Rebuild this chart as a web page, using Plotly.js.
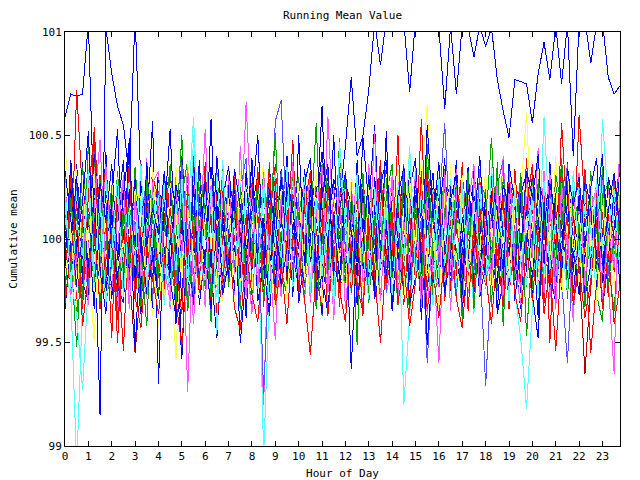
<!DOCTYPE html>
<html>
<head>
<meta charset="utf-8">
<script src="https://cdn.plot.ly/plotly-3.0.1.min.js"></script>
<style>
html,body{margin:0;padding:0;background:#fff;}
#chart{width:640px;height:480px;}
.scatterlayer path{shape-rendering:crispEdges;}
</style>
</head>
<body>
<div id="chart"></div>
<script>
// Hour of day (15-minute steps)
var HOURS = [0,0.25,0.5,0.75,1,1.25,1.5,1.75,2,2.25,2.5,2.75,3,3.25,3.5,3.75,4,4.25,4.5,4.75,5,5.25,5.5,5.75,6,6.25,6.5,6.75,7,7.25,7.5,7.75,8,8.25,8.5,8.75,9,9.25,9.5,9.75,10,10.25,10.5,10.75,11,11.25,11.5,11.75,12,12.25,12.5,12.75,13,13.25,13.5,13.75,14,14.25,14.5,14.75,15,15.25,15.5,15.75,16,16.25,16.5,16.75,17,17.25,17.5,17.75,18,18.25,18.5,18.75,19,19.25,19.5,19.75,20,20.25,20.5,20.75,21,21.25,21.5,21.75,22,22.25,22.5,22.75,23,23.25,23.5,23.75];
var TICK_VALUES = [0,1,2,3,4,5,6,7,8,9,10,11,12,13,14,15,16,17,18,19,20,21,22,23];
var TICK_LABELS = ["0","1","2","3","4","5","6","7","8","9","10","11","12","13","14","15","16","17","18","19","20","21","22","23"];
var Y_TICKS = [99,99.5,100,100.5,101];
var Y_LABELS = ["99","99.5","100","100.5","101"];

var s01 = [100.59,100.70,100.69,100.70,101.05,100.10,99.15,101.02, 100.80,100.64,100.55,100.30,101.08,100.25,100.05,100.20, 99.98,100.22,100.31,100.08,100.17,99.92,100.26,100.12, 100.03,100.28,99.95,100.19,100.35,100.07,99.89,100.24, 100.15,100.31,100.02,99.94,100.27,100.11,100.38,100.05, 100.21,99.97,100.33,100.14,100.42,100.09,100.29,100.18, 100.45,100.78,100.40,100.50,100.72,101.05,100.84,101.06, 101.10,101.04,101.05,100.71,101.06,101.08,101.10,101.05, 101.02,100.63,101.03,100.70,101.04,101.02,100.88,101.03, 100.93,101.02,100.77,100.62,100.49,100.77,100.76,100.75, 100.56,100.80,100.95,100.77,101.03,100.75,101.04,100.40, 101.05,101.06,100.85,101.04,101.05,100.78,100.70,100.74];
var s02 = [100.08,99.86,100.72,100.21,99.93,100.54,100.02,99.78, 100.17,99.91,99.46,100.12,99.84,100.26,99.97,100.09, 99.81,100.14,100.03,99.72,100.29,99.95,100.11,99.88, 100.24,99.83,100.06,100.31,99.90,100.15,99.76,100.02, 99.94,100.19,99.87,100.08,100.36,99.79,100.04,100.22, 99.85,100.13,99.98,100.27,99.74,100.05,100.18,99.92, 100.11,99.82,100.25,99.96,100.07,99.71,100.16,100.34, 99.89,100.03,100.20,99.81,100.12,99.93,100.28,100.01, 99.77,100.09,100.17,99.86,100.32,99.99,100.06,99.73, 100.14,99.90,100.26,100.04,99.83,100.19,99.95,100.10, 100.30,99.87,100.02,100.13,99.79,100.56,100.08,99.91, 100.60,100.16,99.84,100.05,100.23,99.94,100.12,100.38];
var s03 = [99.71,99.92,99.48,100.06,99.88,100.15,99.79,100.03, 100.12,99.84,100.21,99.95,100.08,99.69,100.17,99.90, 100.04,100.26,99.82,100.13,99.97,100.31,99.86,100.09, 99.76,100.18,100.01,99.91,100.24,99.85,100.10,99.96, 100.14,99.80,100.07,100.29,99.93,100.16,99.74,100.02, 99.89,100.21,100.05,100.56,99.87,100.11,99.78,100.19, 100.03,99.92,100.27,99.81,100.14,100.00,99.88,100.23, 99.95,100.09,99.72,100.18,100.06,99.86,100.25,99.97, 100.12,99.83,100.08,100.30,99.91,100.02,100.17,99.79, 100.06,100.49,99.94,100.13,99.76,100.20,99.99,100.11, 99.85,100.16,100.03,99.90,100.27,99.82,100.09,100.21, 99.93,100.14,99.80,100.05,100.24,99.88,99.65,100.12];
var s04 = [100.13,99.88,100.24,99.97,100.31,99.82,100.06,100.19, 99.91,100.27,100.02,99.78,100.14,99.93,100.08,100.57, 99.30,100.11,100.53,99.89,99.42,100.16,99.96,100.22, 100.04,99.81,100.18,99.94,100.29,100.07,99.85,100.12, 99.98,100.23,99.79,100.10,99.92,100.34,100.01,99.87, 100.17,99.95,100.08,99.83,100.26,100.03,99.90,100.14, 99.86,100.20,99.99,100.32,99.80,100.09,100.24,99.93, 100.11,99.84,100.06,100.19,99.91,100.28,99.75,100.05, 100.15,99.97,99.82,100.13,100.02,99.88,100.21,100.07, 99.94,100.10,100.26,99.86,100.04,99.79,100.17,99.99, 100.22,99.90,100.08,100.31,99.85,100.12,99.96,100.18, 100.03,99.81,100.15,99.92,100.27,100.06,99.87,100.10];
var s05 = [100.45,100.12,99.84,100.03,99.92,99.51,100.18,99.96, 100.07,99.83,100.21,99.94,100.10,100.28,99.87,100.01, 99.58,100.14,99.90,99.42,100.19,99.98,100.06,99.81, 100.23,99.95,100.09,99.86,100.15,100.02,99.79,100.20, 99.93,100.11,99.85,100.24,100.04,99.89,100.17,99.97, 100.08,99.82,100.26,99.99,99.87,100.13,100.05,99.91, 100.19,99.94,100.07,99.80,100.22,99.96,100.12,99.88, 100.03,100.16,99.91,100.09,99.84,100.25,100.65,99.97, 99.89,100.13,100.01,99.78,100.18,99.95,100.10,100.27, 99.92,100.06,99.83,100.15,100.02,99.90,100.21,100.61, 99.98,100.12,99.86,100.07,100.20,99.93,100.04,99.81, 100.14,99.97,100.09,99.85,100.18,100.01,99.90,100.24];
var s06 = [99.93,100.17,99.85,100.08,100.26,99.97,100.11,99.82, 100.04,100.21,99.89,100.13,99.95,100.30,100.02,99.87, 100.16,99.90,100.07,99.78,100.22,99.26,100.09,99.94, 100.53,99.88,100.14,100.01,99.83,100.19,99.96,100.66, 100.05,99.91,99.20,100.12,99.86,100.23,100.00,99.79, 100.18,99.92,100.08,100.27,99.84,100.59,100.03,99.95, 99.87,100.15,100.04,99.81,100.20,99.93,100.11,100.29, 99.90,100.06,99.77,100.17,100.02,99.88,100.24,99.96, 99.40,100.13,99.85,100.09,100.26,99.94,100.05,99.82, 100.19,99.98,100.10,99.86,100.33,100.01,99.91,100.14, 99.84,100.07,100.22,99.95,100.12,99.80,100.17,100.03, 99.92,100.25,99.88,100.10,100.04,99.79,99.35,100.57];
var s07 = [99.86,99.72,98.90,99.68,100.05,100.21,99.93,100.12, 99.98,100.17,99.88,100.03,100.24,99.91,100.08,99.80, 100.14,99.95,100.06,100.27,99.87,100.10,100.59,99.97, 100.02,99.83,100.19,99.94,100.11,100.28,99.89,100.05, 99.92,100.16,98.95,99.75,100.09,99.96,100.22,100.01, 99.85,100.13,99.99,100.20,99.90,100.07,99.81,100.18, 100.04,99.93,100.15,99.86,100.26,100.00,99.89,100.12, 99.97,100.21,99.20,99.62,100.06,99.91,100.17,99.84, 100.10,100.02,99.87,100.23,99.95,100.14,99.82,100.06, 99.93,100.18,100.04,99.88,100.11,99.99,100.25,99.90, 100.08,99.86,100.59,100.03,99.92,100.15,100.01,99.83, 100.20,99.94,100.09,100.27,99.98,99.87,100.13,100.05];
var s08 = [100.11,99.90,100.24,99.97,100.06,99.84,100.18,100.02, 99.89,100.13,99.95,100.29,100.04,99.81,100.16,99.93, 100.07,100.22,99.88,100.10,99.96,100.19,99.83,100.03, 100.15,99.92,100.05,99.79,100.23,100.00,99.87,100.14, 99.98,100.12,99.25,99.91,100.57,100.67,100.02,99.85, 100.20,99.94,100.09,99.87,100.13,100.26,99.93,100.04, 99.82,100.17,100.01,99.90,100.24,99.97,100.08,99.86, 100.12,99.95,100.03,100.21,99.88,100.10,99.40,99.92, 100.15,100.56,99.97,100.06,99.84,100.18,100.00,99.91, 99.29,99.83,100.14,99.96,100.09,100.25,99.89,100.02, 100.11,99.88,100.19,99.93,100.06,99.81,99.40,99.97, 100.13,100.02,99.90,100.21,99.85,100.08,99.95,100.16];
var s09 = [99.95,100.16,100.02,99.87,100.21,99.93,100.09,99.80, 100.13,99.97,100.05,99.84,99.45,99.79,100.18,100.03, 99.90,100.11,100.24,99.96,100.07,99.85,100.14,100.00, 99.88,100.20,99.94,100.08,99.82,100.16,100.03,99.91, 100.12,99.86,100.04,100.19,99.93,100.10,99.80,100.06, 99.97,100.23,99.89,100.02,100.15,99.84,100.09,99.95, 100.06,99.92,100.18,99.87,100.01,100.27,99.90,100.08, 99.83,100.14,100.00,99.94,100.21,99.86,100.05,100.17, 99.99,99.81,100.12,100.04,99.91,100.19,99.96,100.10, 100.02,99.88,100.16,99.93,100.08,99.85,100.22,99.97, 100.14,99.95,100.03,99.82,100.18,100.06,99.90,100.11, 99.87,99.35,99.78,100.09,99.95,100.16,100.01,99.89];
var s10 = [100.04,99.83,100.19,99.92,100.10,100.28,99.88,100.01, 100.15,99.96,99.81,100.08,100.22,99.90,100.13,99.99, 99.86,100.09,99.97,100.20,99.42,100.05,99.91,100.17, 100.02,99.85,99.52,100.11,99.94,100.24,100.00,99.87, 100.18,99.93,100.07,99.84,100.13,99.98,100.26,100.03, 99.91,100.16,99.95,100.08,100.64,99.89,100.12,100.01, 99.88,100.21,99.96,100.10,99.83,100.15,100.04,99.92, 100.19,99.87,100.06,100.25,99.93,100.02,99.85,100.14, 100.00,99.90,100.17,99.82,100.09,100.23,99.95,100.06, 99.89,100.12,99.97,100.20,99.84,100.05,100.15,99.93, 100.03,100.24,99.88,100.11,99.96,100.07,99.81,100.19, 99.94,100.08,100.16,99.86,100.02,100.22,99.91,100.05];
var s11 = [99.89,100.23,100.04,99.91,100.15,99.97,100.31,99.82, 100.06,99.50,100.12,99.94,100.20,100.01,99.86,100.17, 99.98,100.09,99.83,100.25,99.95,100.13,100.02,99.88, 100.19,99.92,100.07,99.80,100.16,99.99,100.27,100.04, 99.85,100.11,99.96,100.22,100.03,99.87,100.14,99.93, 100.08,100.30,99.90,100.05,99.81,100.18,99.97,100.12, 99.94,100.06,100.21,99.89,100.10,99.84,100.17,100.00, 100.13,99.95,100.04,100.26,99.91,100.58,99.88,100.09, 99.97,100.20,99.85,100.07,100.15,99.93,100.02,100.24, 99.86,100.11,99.99,100.18,99.92,100.06,100.29,99.88, 100.16,99.94,100.05,99.83,100.21,100.02,99.90,100.13, 99.98,100.10,99.87,100.19,100.04,99.93,100.26,99.85];
var s12 = [99.78,100.31,99.62,100.14,99.85,100.38,99.70,100.05, 100.24,99.66,100.09,99.81,100.35,99.92,99.58,100.19, 99.87,100.28,99.74,100.02,100.50,99.69,100.16,99.80, 100.07,99.60,100.33,99.89,100.12,99.73,100.26,99.94, 99.65,100.22,99.97,100.37,99.76,100.04,99.84,100.30, 100.11,99.71,100.25,99.90,99.63,100.18,99.82,100.49, 99.79,100.13,99.49,100.29,99.95,100.08,99.68,100.21, 100.36,99.83,100.02,99.64,100.27,99.91,100.15,99.72, 99.98,100.34,99.75,100.10,99.61,100.23,99.88,100.06, 100.19,99.67,100.32,99.58,100.14,99.86,100.03,99.77, 100.28,99.93,99.70,100.20,99.84,100.39,99.96,99.62, 100.09,99.80,100.24,99.73,99.60,100.17,99.87,100.35];
var s13 = [100.22,99.74,100.36,99.89,100.08,99.66,100.28,99.95, 99.71,100.17,99.86,100.49,99.79,100.03,100.31,99.63, 100.12,99.82,100.26,99.59,100.19,99.92,99.68,100.33, 99.85,100.58,99.77,100.14,99.98,100.29,99.72,100.06, 100.35,99.88,100.10,99.67,100.24,99.81,100.40,99.94, 99.76,100.20,99.90,100.32,99.64,100.09,100.27,99.83, 100.15,99.37,100.01,100.30,99.75,100.18,99.87,100.52, 99.69,100.07,100.34,99.84,100.21,99.61,100.12,99.96, 100.26,99.78,100.05,100.38,99.70,100.16,99.91,100.02, 99.86,100.31,99.65,100.11,99.93,100.25,99.74,100.19, 100.04,99.62,100.29,99.88,100.13,99.80,100.37,99.97, 99.73,100.23,99.91,100.08,99.66,100.30,99.85,100.14];
var s14 = [99.83,100.27,99.69,100.12,99.94,100.35,99.78,100.03, 100.18,99.62,100.25,99.90,100.07,99.73,100.39,99.85, 99.96,100.21,99.66,100.30,99.81,100.10,99.59,100.16, 100.04,99.75,100.28,99.87,100.13,99.70,100.45,99.92, 99.64,100.19,99.86,100.33,99.97,99.72,100.24,99.80, 100.09,99.68,100.31,99.93,99.77,100.22,99.61,100.14, 100.27,99.82,100.06,99.65,100.36,99.91,100.11,99.74, 99.87,100.32,99.70,100.17,99.95,100.26,99.63,100.08, 100.20,99.79,100.01,100.34,99.67,100.12,99.88,100.29, 99.76,100.15,99.92,100.40,99.84,100.05,99.69,100.23, 100.10,99.87,100.33,99.71,100.18,99.96,100.02,99.60, 100.25,99.78,100.13,99.94,100.30,99.82,100.07,99.88];
var s15 = [100.12,99.81,99.63,99.27,99.79,100.24,99.90,100.31, 100.08,99.70,100.27,99.93,100.16,99.74,100.35,99.97, 99.85,100.22,99.68,100.13,100.30,99.80,100.04,99.91, 100.26,99.95,99.72,100.38,99.86,100.11,99.65,100.20, 99.89,100.17,99.98,99.69,100.32,99.83,100.08,100.28, 99.76,100.02,100.25,99.67,100.19,99.94,99.84,100.33, 100.14,99.73,100.29,100.05,99.78,100.21,99.88,100.10, 99.82,100.26,99.99,99.71,100.36,99.87,100.15,99.93, 100.23,99.75,100.09,100.30,99.85,100.12,99.64,100.19, 99.96,99.79,100.27,99.83,100.07,99.75,99.52,99.18, 99.66,100.16,99.87,100.24,100.01,99.77,100.20,99.90, 100.28,99.84,100.06,99.72,100.58,100.17,99.89,100.13];
var s16 = [99.88,100.19,100.34,99.75,100.06,99.82,100.27,99.97, 99.69,100.30,99.78,100.12,99.91,100.24,99.86,99.63, 100.21,99.90,100.07,100.35,99.76,100.15,99.93,100.28, 99.81,100.02,100.25,99.70,100.18,99.87,100.33,99.96, 100.14,99.79,100.29,99.92,99.66,100.20,99.98,99.85, 100.31,99.95,99.73,100.17,99.84,100.26,99.71,100.38, 99.90,100.08,99.80,100.27,100.13,99.74,100.22,99.93, 99.82,100.34,99.97,100.45,99.78,100.19,99.88,100.09, 100.18,99.86,100.36,99.72,100.04,100.25,99.80,99.99, 99.77,100.21,99.94,100.31,99.83,100.12,99.68,100.26, 100.07,99.81,100.23,99.89,100.40,99.75,100.10,100.22, 99.79,100.28,99.95,99.70,100.16,99.92,100.33,99.98];
var s17 = [100.29,99.80,99.98,100.37,99.73,100.20,99.89,100.42, 99.71,100.15,100.38,99.84,100.02,99.64,100.24,99.93, 100.33,99.78,100.11,99.88,100.40,99.95,99.70,100.22, 99.82,100.35,100.00,99.74,100.27,99.86,100.14,99.62, 100.21,99.92,99.77,100.36,99.85,100.10,100.30,99.72, 100.50,99.87,100.19,99.68,100.03,100.28,99.81,99.96, 100.24,99.76,100.38,99.85,100.16,100.55,99.91,100.06, 99.70,100.20,99.94,100.33,99.82,100.01,100.27,99.79, 100.09,100.39,99.75,100.18,99.95,99.83,100.34,99.98, 99.80,100.23,100.04,99.73,100.30,99.92,99.66,100.17, 100.36,99.89,100.12,100.26,99.78,99.97,100.21,99.74, 100.02,100.31,99.85,100.15,100.41,99.77,100.05,100.32];
var s18 = [99.90,100.25,99.68,100.09,100.32,99.79,100.14,100.35, 99.97,99.72,100.28,99.95,99.81,100.37,99.74,100.11, 99.84,100.31,100.06,99.69,100.19,99.88,100.40,99.77, 100.16,99.70,100.24,99.98,99.83,100.30,99.75,100.05, 100.27,99.86,99.93,100.36,99.71,100.18,99.89,100.23, 99.76,100.29,99.99,99.80,100.34,99.92,100.13,99.67, 100.21,99.97,99.73,100.32,99.85,100.04,100.38,99.78, 100.07,99.81,100.29,99.66,100.17,99.94,100.35,99.86, 99.88,100.24,99.76,100.12,100.33,99.82,99.99,100.28, 100.20,99.74,100.01,99.87,100.30,100.15,99.79,100.39, 99.83,100.10,99.69,100.25,99.96,100.34,99.77,100.18, 100.27,99.94,99.45,99.80,100.13,99.72,100.31,100.02];
var s19 = [100.16,99.81,100.28,99.96,99.74,100.45,99.87,100.21, 99.92,100.26,99.76,100.34,99.85,100.09,100.30,99.70, 100.23,99.88,100.14,99.79,100.37,99.97,99.73,100.25, 99.83,100.19,100.32,99.75,99.95,99.86,100.24,100.39, 99.78,99.98,99.89,100.27,99.70,100.33,100.12,99.84, 100.22,99.77,99.96,100.31,99.87,100.17,99.80,100.35, 99.95,100.28,99.72,99.93,100.24,99.81,100.33,99.74, 100.15,99.85,100.36,99.79,100.05,100.29,99.76,100.20, 99.88,100.23,99.94,99.71,100.30,100.08,99.83,100.34, 100.12,99.78,100.26,100.38,99.75,99.97,100.31,99.86, 100.21,99.92,99.81,100.28,99.70,100.11,100.36,99.87, 99.94,100.32,99.76,100.24,99.90,99.82,100.27,100.10];
var s20 = [99.72,100.20,99.86,100.35,100.10,99.78,100.29,99.94, 100.26,99.80,100.15,99.87,100.33,99.71,99.97,100.34, 99.82,100.27,99.91,99.70,100.21,100.38,99.85,100.13, 100.30,99.76,99.95,100.26,99.80,100.12,99.66,100.32, 99.93,99.84,100.34,99.75,100.18,99.90,100.28,99.79, 99.86,100.24,99.73,100.13,100.36,99.83,100.20,99.96, 100.33,99.79,100.11,99.88,100.27,99.74,100.16,100.30, 99.81,100.19,99.84,100.31,99.93,99.72,100.25,100.08, 100.28,99.82,100.18,99.91,100.35,99.77,100.12,99.86, 100.21,99.94,99.75,100.29,100.14,99.80,100.32,99.92, 99.76,100.26,100.09,99.83,100.31,100.16,99.78,100.23, 99.95,99.85,100.33,99.74,100.20,100.27,99.81,100.13];
var s21 = [100.33,100.09,99.77,100.25,99.86,100.41,100.12,99.74, 100.20,100.53,99.80,99.97,100.29,99.72,100.37,99.89, 99.98,99.79,100.30,100.16,99.70,100.26,99.93,100.38, 99.81,100.23,99.88,100.32,100.02,99.75,100.27,99.96, 100.39,99.85,100.21,99.94,99.77,100.30,99.84,100.15, 99.90,100.34,100.01,99.73,100.27,99.95,100.50,99.82, 100.22,99.87,100.36,100.03,99.71,100.30,99.97,99.80, 100.28,99.93,99.76,100.24,100.39,99.83,100.11,100.32, 99.78,100.17,100.27,99.86,99.99,100.35,99.74,100.21, 100.13,99.81,100.31,99.96,99.76,100.26,100.18,99.84, 100.31,100.10,99.79,100.37,99.95,99.73,100.24,99.92, 99.85,100.29,100.15,99.77,100.33,100.07,99.80,100.26];
var s22 = [100.24,99.83,99.96,99.70,100.29,100.17,99.79,100.36, 99.87,99.95,100.31,99.74,100.22,99.82,99.93,100.28, 100.15,99.76,99.86,100.25,99.92,99.68,100.33,99.81, 100.27,100.12,99.77,100.20,99.88,100.34,99.91,99.73, 99.94,100.30,99.80,99.97,100.26,99.75,100.21,99.90, 99.83,99.99,100.33,99.86,99.93,99.76,100.24,100.15, 99.89,100.28,99.79,100.18,99.72,100.25,100.13,99.87, 100.31,99.80,99.95,100.11,99.84,100.27,99.75,100.22, 99.93,100.33,99.85,100.21,99.89,99.74,100.29,100.16, 99.79,99.92,100.25,99.86,100.35,99.90,99.77,100.18, 100.26,99.84,99.91,100.32,99.78,100.22,99.87,99.94, 100.20,99.73,100.28,99.92,99.81,100.24,99.89,99.85];
var s23 = [99.78,100.27,99.91,99.83,100.32,100.18,99.75,100.23, 99.93,99.81,100.25,100.19,99.72,100.30,99.88,99.80, 100.31,99.94,99.83,100.22,100.17,99.77,100.26,99.74, 100.19,99.86,100.28,99.78,100.24,99.95,99.81,100.33, 99.85,100.21,99.92,99.73,100.30,99.87,100.23,100.16, 99.90,99.79,100.26,100.20,99.84,100.31,99.89,99.76, 100.27,100.17,99.82,100.24,99.88,99.77,100.29,99.92, 99.86,100.23,100.16,99.80,100.30,99.91,99.78,100.25, 100.19,99.84,100.24,99.89,99.76,100.28,100.17,99.82, 100.22,99.88,99.79,100.26,100.15,99.85,100.21,100.32, 99.81,100.29,100.17,99.77,100.23,99.92,100.27,99.84, 100.20,99.87,100.24,99.91,99.79,100.30,100.16,99.83];
var s24 = [100.18,99.81,100.23,99.87,100.27,99.77,99.92,100.30, 99.84,100.21,99.89,100.32,99.80,100.19,99.74,100.25, 99.90,100.28,99.78,100.17,99.85,100.24,99.91,99.76, 100.22,99.83,100.31,99.88,99.79,100.20,100.27,99.84, 99.92,99.75,100.25,99.90,100.33,99.81,100.18,100.23, 99.86,100.26,99.79,100.19,99.88,100.28,99.83,100.21, 100.24,99.78,99.93,100.30,99.84,99.91,100.22,99.80, 99.89,100.25,99.82,100.19,100.28,99.77,99.92,100.24, 99.81,99.94,100.29,99.83,100.21,99.90,99.76,100.26, 99.93,99.85,100.22,99.89,99.81,100.31,99.94,99.78, 100.25,99.88,99.82,100.20,99.91,99.77,100.28,99.95, 99.84,100.23,99.92,99.80,100.26,99.88,100.21,99.85];
var s25 = [99.75,100.32,99.88,99.66,100.21,100.52,99.79,100.13, 99.52,100.28,99.93,100.36,99.70,100.08,99.84,100.31, 100.19,99.73,100.34,99.87,99.64,100.26,100.02,99.78, 100.37,99.69,99.96,100.23,99.82,100.30,99.71,100.11, 99.86,100.35,99.67,100.14,100.29,99.77,99.99,100.48, 99.72,100.16,100.33,99.81,99.68,100.27,99.90,100.20, 100.31,99.74,100.05,99.63,100.24,99.85,100.36,99.79, 99.92,100.50,99.68,100.12,99.80,100.33,99.75,100.22, 100.27,99.70,100.17,99.83,100.37,99.65,100.09,99.88, 99.78,100.30,99.86,100.21,99.66,100.34,99.94,100.15, 100.36,99.73,100.26,99.50,100.18,99.85,100.30,99.70, 99.89,100.34,99.76,100.25,99.67,100.12,99.83,100.28];
var s26 = [99.66,99.98,100.30,99.79,99.70,100.27,99.86,99.64, 100.13,99.77,99.69,100.24,99.47,100.01,99.73,99.92, 99.71,100.18,99.80,99.62,100.09,99.75,100.25,99.68, 99.94,99.66,100.17,99.73,99.89,100.21,99.50,99.83, 100.24,99.70,99.87,99.63,100.15,99.78,99.95,100.20, 99.69,99.91,100.26,99.74,99.82,99.64,100.12,99.80, 99.77,100.22,99.68,99.97,100.31,99.71,99.86,100.09, 99.65,99.96,100.23,99.69,99.81,100.19,99.49,99.90, 100.16,99.74,99.92,100.27,99.67,99.85,100.11,99.72, 99.88,100.20,99.64,99.79,100.25,99.70,99.98,100.14, 99.73,99.52,100.18,99.84,99.69,100.28,99.76,99.93, 100.21,99.72,99.87,100.14,99.66,99.90,100.24,99.75];
var s27 = [100.28,99.84,100.12,99.71,100.47,99.93,100.05,99.69, 99.88,100.33,99.76,100.17,99.95,99.67,100.29,100.10, 99.74,100.06,100.36,99.82,100.22,99.65,99.97,100.31, 100.14,99.72,99.90,100.34,99.77,100.08,100.25,99.80, 99.93,100.27,99.70,100.02,100.51,99.85,99.73,100.19, 100.30,99.79,100.16,99.66,99.98,100.35,99.83,100.07, 99.75,100.23,99.89,100.32,99.69,100.11,99.94,100.28, 100.04,99.68,100.31,99.87,100.18,99.74,100.46,99.91, 99.70,100.15,99.96,100.26,99.81,100.33,99.66,100.09, 100.24,99.85,100.37,99.72,100.03,99.90,100.27,99.53, 99.96,100.29,99.75,100.14,99.88,100.32,99.71,100.20, 100.10,99.67,100.22,99.84,100.35,99.78,100.01,99.92];
var s28 = [99.82,100.04,99.67,100.26,99.91,100.33,99.74,100.17, 100.31,99.86,99.99,99.70,100.24,100.06,99.79,100.35, 99.95,99.69,100.27,100.12,99.81,100.38,99.87,99.72, 100.09,100.29,99.78,99.93,100.20,99.66,100.32,100.01, 99.75,100.18,100.36,99.84,99.97,100.24,99.71,100.13, 100.26,99.80,99.92,100.34,99.69,100.07,100.21,99.86, 99.73,100.30,100.14,99.77,100.25,99.90,99.68,100.33, 100.18,99.85,99.71,100.29,99.96,100.40,99.80,100.05, 99.66,100.22,100.03,99.89,100.31,99.76,100.15,99.93, 100.34,99.73,100.19,99.97,99.82,100.27,99.90,100.11, 99.85,100.37,99.78,100.08,100.25,99.70,100.32,99.94, 100.12,99.83,100.28,99.69,99.95,100.21,99.76,100.30];
var s29 = [100.30,99.73,99.90,100.22,99.68,100.14,100.48,99.81, 99.75,100.12,100.29,99.66,100.19,99.88,99.71,100.27, 100.33,99.85,99.70,100.24,99.93,100.35,99.77,100.05, 99.67,100.26,99.94,99.78,100.31,99.83,100.16,99.72, 100.25,99.76,100.32,99.91,99.51,100.21,99.87,100.37, 99.80,100.28,99.69,100.11,100.35,99.74,99.97,100.23, 99.66,100.04,100.30,99.79,99.92,100.52,99.70,100.15, 100.27,99.72,100.09,99.86,100.33,99.67,100.20,99.84, 99.77,100.31,99.65,100.24,99.89,100.16,100.36,99.73, 100.08,99.81,100.28,99.70,100.22,99.87,99.68,100.30, 99.91,100.44,99.74,100.19,99.66,100.27,99.95,100.12, 100.32,99.78,100.13,100.26,99.71,100.04,99.86,100.21];
var s30 = [99.87,100.38,99.95,100.18,100.52,99.83,100.27,100.09, 100.36,99.90,100.21,100.47,99.80,100.30,99.97,100.15, 100.02,100.33,99.85,100.26,100.11,99.78,100.37,99.94, 100.29,99.86,100.40,100.07,99.81,100.34,100.16,99.91, 100.19,100.50,99.88,100.24,100.05,99.84,100.31,100.12, 99.95,100.27,100.39,99.87,100.20,100.36,99.82,100.14, 100.32,100.03,99.89,100.49,100.17,99.93,100.26,100.38, 99.84,100.21,100.35,99.98,100.28,99.86,100.55,100.10, 100.37,99.91,100.19,100.31,99.83,100.24,100.06,100.40, 99.92,100.29,100.13,99.85,100.36,100.18,99.94,100.33, 100.20,100.41,99.88,100.27,100.09,99.82,100.34,100.16, 100.30,99.96,100.25,100.39,99.87,100.14,100.32,100.04];
var s31 = [99.69,99.94,100.17,99.58,99.83,100.08,99.66,99.90, 100.04,99.61,99.86,100.12,99.72,99.57,99.97,99.80, 99.64,99.89,100.15,99.70,99.48,99.93,100.06,99.74, 99.88,100.11,99.62,99.81,100.03,99.67,99.56,99.95, 99.73,99.60,99.98,100.14,99.68,99.87,99.59,100.02, 99.91,99.71,99.44,99.85,100.10,99.63,99.96,99.75, 99.60,99.99,99.77,99.65,100.07,99.82,99.50,99.92, 100.13,99.69,99.88,99.58,99.79,100.05,99.66,99.84, 99.62,99.93,100.09,99.71,99.57,99.90,99.76,100.16, 99.83,99.59,99.95,99.67,100.08,99.74,99.60,99.98, 99.70,100.04,99.64,99.86,99.46,99.91,100.12,99.68, 99.87,99.62,99.80,100.09,99.66,99.94,99.59,99.78];
var s32 = [100.27,99.76,100.08,99.92,100.34,99.83,100.19,99.69, 99.94,100.30,99.72,100.15,99.87,100.36,99.79,100.03, 100.21,99.68,100.11,99.85,100.28,99.75,100.50,99.90, 99.80,100.24,99.54,100.33,99.95,100.09,99.73,100.26, 100.14,99.84,100.29,99.70,100.06,99.91,100.35,99.77, 99.89,100.31,99.74,100.20,99.82,100.13,99.67,100.47, 100.05,99.78,100.32,99.93,99.71,100.25,99.86,100.17, 99.73,100.10,99.90,100.45,99.81,100.22,99.95,99.68, 100.30,99.87,100.14,99.76,100.27,99.84,100.18,99.92, 99.79,100.35,99.96,100.12,99.70,100.23,99.88,100.07, 100.19,99.72,100.28,99.85,100.10,99.97,99.75,100.33, 99.91,100.16,99.81,100.29,99.94,100.06,100.24,99.83];

var SERIES = [s01,s02,s03,s04,s05,s06,s07,s08,s09,s10,s11,s12,s13,s14,s15,s16,s17,s18,s19,s20,s21,s22,s23,s24,s25,s26,s27,s28,s29,s30,s31,s32];
var COLORS = ["#0000ff","#ff0000","#00a000","#0000ff","#ffff55","#ff55ff","#55ffff","#5555ff","#b00000","#0000c8","#ff0000","#00a000","#0000ff","#ff55ff","#55ffff","#ffff55","#0000ff","#ff0000","#5555ff","#00a000","#0000ff","#ff55ff","#0000c8","#55ffff","#ff0000","#0000ff","#00a000","#ffff55","#ff55ff","#0000ff","#ff0000","#55ffff"];

var traces = SERIES.map(function(vals, i){
  return {x: HOURS, y: vals, type: 'scatter', mode: 'lines',
          line: {color: COLORS[i], width: 1}, hoverinfo: 'skip', showlegend: false};
});

var FONT = {family: '"DejaVu Sans Mono", "Liberation Mono", monospace', size: 11, color: '#000'};

var layout = {
  width: 640, height: 480,
  margin: {l: 65, r: 20, t: 32, b: 34, pad: 0},
  paper_bgcolor: '#fff', plot_bgcolor: '#fff',
  font: FONT,
  showlegend: false,
  title: {text: 'Running Mean Value', font: FONT, x: 0.5, xref: 'paper', y: 1 - 15/480, yref: 'container', yanchor: 'middle'},
  xaxis: {
    range: [0, 23.75], tickvals: TICK_VALUES, ticktext: TICK_LABELS,
    ticks: 'inside', ticklen: 5, tickcolor: '#000', tickwidth: 1,
    showline: true, linecolor: '#000', linewidth: 1, mirror: 'ticks',
    showgrid: false, zeroline: false, tickfont: FONT,
    title: {text: 'Hour of Day', font: FONT, standoff: 8}
  },
  yaxis: {
    range: [99, 101], tickvals: Y_TICKS, ticktext: Y_LABELS,
    ticks: 'inside', ticklen: 5, tickcolor: '#000', tickwidth: 1,
    showline: true, linecolor: '#000', linewidth: 1, mirror: 'ticks',
    showgrid: false, zeroline: false, tickfont: FONT,
    title: {text: 'Cumulative mean', font: FONT, standoff: 8}
  }
};

Plotly.newPlot('chart', traces, layout, {staticPlot: true, displayModeBar: false});
</script>
</body>
</html>
